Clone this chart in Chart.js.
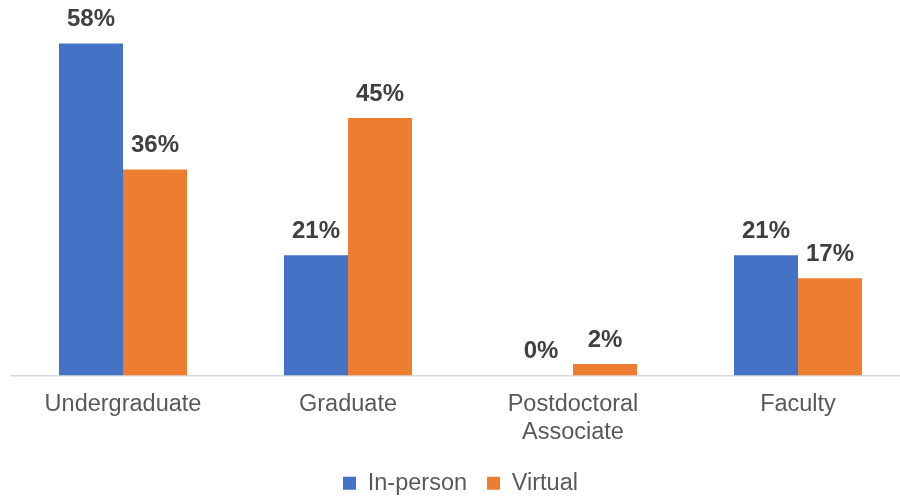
<!DOCTYPE html>
<html>
<head>
<meta charset="utf-8">
<script src="https://cdn.jsdelivr.net/npm/chart.js@4/dist/chart.umd.min.js"></script>
<style>
  html, body { margin: 0; padding: 0; background: #fff; overflow: hidden; }
  #wrap { position: relative; width: 921px; height: 505px; }
</style>
</head>
<body>
<div id="wrap"><canvas id="myChart"></canvas></div>
<script>
// categories and the two attendance series (percent)
const categories = ["Undergraduate", "Graduate", ["Postdoctoral", "Associate"], "Faculty"];
const inPerson = [58, 21, 0, 21];
const virtual = [36, 45, 2, 17];

const FONT = "'Liberation Sans', Arial, sans-serif";

// draws the "NN%" label above every bar
const valueLabels = {
  id: "valueLabels",
  afterDatasetsDraw(chart) {
    const ctx = chart.ctx;
    ctx.save();
    ctx.font = "bold 24px " + FONT;
    ctx.fillStyle = "#404040";
    ctx.textAlign = "center";
    ctx.textBaseline = "middle";
    chart.data.datasets.forEach((ds, i) => {
      chart.getDatasetMeta(i).data.forEach((bar, j) => {
        ctx.fillText(ds.data[j] + "%", bar.x, bar.y - 24);
      });
    });
    ctx.restore();
  },
};

const ctx = document.getElementById("myChart").getContext("2d");
new Chart(ctx, {
  type: "bar",
  data: {
    labels: categories,
    datasets: [
      {
        label: "In-person",
        data: inPerson,
        backgroundColor: "#4472C4",
      },
      {
        label: "Virtual",
        data: virtual,
        backgroundColor: "#ED7D31",
      },
    ],
  },
  options: {
    responsive: true,
    maintainAspectRatio: false,
    animation: false,
    layout: { padding: { top: 32, left: 10.5, right: 10.5, bottom: 0 } },
    datasets: {
      bar: { categoryPercentage: 0.569, barPercentage: 1.0 },
    },
    scales: {
      x: {
        grid: { display: false, drawTicks: false },
        border: { color: "#d9d9d9", width: 1.5 },
        ticks: {
          color: "#595959",
          padding: 15,
          font: { family: FONT, size: 23.5, lineHeight: 1.2 },
          maxRotation: 0,
          autoSkip: false,
        },
        afterFit(scale) {
          scale.height = 76;
        },
      },
      y: {
        display: false,
        min: 0,
        max: 60,
      },
    },
    plugins: {
      legend: {
        position: "bottom",
        labels: {
          boxWidth: 13,
          boxHeight: 13,
          padding: 20,
          color: "#595959",
          font: { family: FONT, size: 23.5 },
        },
      },
      tooltip: { enabled: false },
    },
  },
  plugins: [valueLabels],
});
</script>
</body>
</html>
